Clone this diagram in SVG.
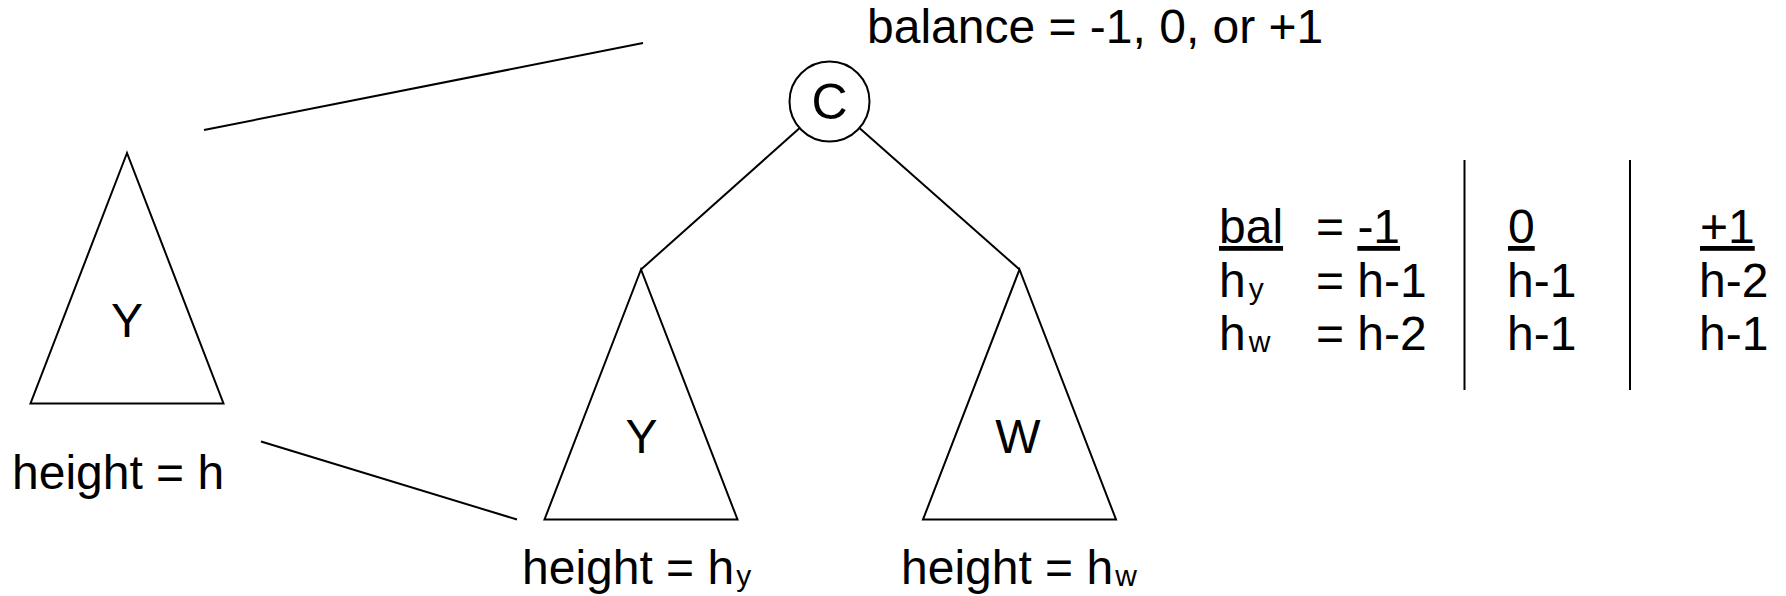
<svg xmlns="http://www.w3.org/2000/svg" width="1786" height="596" viewBox="0 0 1786 596">
<style>
text{font-family:"Liberation Sans",Arial,sans-serif;fill:#000}
.t{font-size:48px}
.lbl{font-size:48px;text-anchor:middle}
.sub{font-size:30px}
.ln{stroke:#000;stroke-width:2;fill:none}
.tri{stroke:#000;stroke-width:2;fill:#fff;stroke-linejoin:miter}
.u{text-decoration:underline}
</style>
<rect width="1786" height="596" fill="#fff"/>
<g id="connectors">
<line class="ln" x1="799.7" y1="128" x2="641" y2="269.5"/>
<line class="ln" x1="859.4" y1="128" x2="1019.5" y2="269.5"/>
<line class="ln" x1="204" y1="130" x2="643" y2="43"/>
<line class="ln" x1="261" y1="441.5" x2="517" y2="519.5"/>
</g>
<g id="node-C">
<circle class="ln" cx="829.5" cy="101.5" r="40"/>
<text class="lbl" x="829.5" y="119" style="font-size:50px">C</text>
</g>
<g id="balance-label">
<text class="t" x="867" y="43">balance = -1, 0, or +1</text>
</g>
<g id="tree-Y-left">
<polygon class="tri" points="127,153 30.5,403.5 223.5,403.5"/>
<text class="lbl" x="127" y="337">Y</text>
<text class="t" x="12" y="489">height = h</text>
</g>
<g id="tree-Y">
<polygon class="tri" points="641,269.5 544.5,519.5 737.5,519.5"/>
<text class="lbl" x="641.5" y="453">Y</text>
<text class="t" x="522" y="584">height = h<tspan class="sub" dx="2" dy="2">y</tspan></text>
</g>
<g id="tree-W">
<polygon class="tri" points="1019.5,269.5 923,519.5 1116,519.5"/>
<text class="lbl" x="1018" y="453">W</text>
<text class="t" x="901" y="584">height = h<tspan class="sub" dx="2" dy="2">w</tspan></text>
</g>
<g id="table">
<line class="ln" x1="1464.5" y1="160" x2="1464.5" y2="390"/>
<line class="ln" x1="1630" y1="160" x2="1630" y2="390"/>
<text class="t" x="1219" y="243"><tspan class="u">bal</tspan></text>
<text class="t" x="1316" y="243">= <tspan class="u">-1</tspan></text>
<text class="t" x="1219" y="297">h<tspan class="sub" dx="3" dy="2">y</tspan></text>
<text class="t" x="1316" y="297">= h-1</text>
<text class="t" x="1219" y="350">h<tspan class="sub" dx="3" dy="2">w</tspan></text>
<text class="t" x="1316" y="350">= h-2</text>
<text class="t" x="1508" y="243"><tspan class="u">0</tspan></text>
<text class="t" x="1507" y="297">h-1</text>
<text class="t" x="1507" y="350">h-1</text>
<text class="t" x="1700" y="243"><tspan class="u">+1</tspan></text>
<text class="t" x="1699" y="297">h-2</text>
<text class="t" x="1699" y="350">h-1</text>
</g>
</svg>
